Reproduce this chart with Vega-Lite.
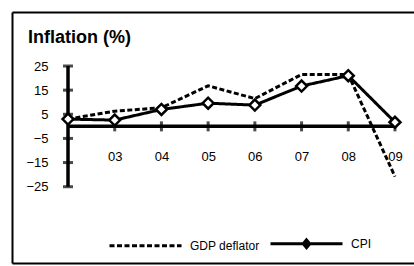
{
  "$schema": "https://vega.github.io/schema/vega-lite/v6.json",
  "width": 402,
  "height": 251,
  "autosize": "none",
  "padding": {"left": 12, "top": 12, "right": 0, "bottom": 3},
  "background": "white",
  "title": {"text": "Inflation (%)", "anchor": "start", "frame": "group", "orient": "top", "offset": -49, "dx": 16, "baseline": "alphabetic", "font": "Liberation Sans", "fontSize": 18, "fontWeight": "bold", "color": "black"},
  "config": {
    "view": {"stroke": null},
    "axis": {"grid": false, "title": null, "labelFont": "Liberation Sans", "labelColor": "black", "domainColor": "black", "tickColor": "black"}
  },
  "datasets": {
    "series": [
      {"year": 2002, "series": "GDP deflator", "value": 3.0},
      {"year": 2003, "series": "GDP deflator", "value": 6.3},
      {"year": 2004, "series": "GDP deflator", "value": 7.7},
      {"year": 2005, "series": "GDP deflator", "value": 16.8},
      {"year": 2006, "series": "GDP deflator", "value": 11.5},
      {"year": 2007, "series": "GDP deflator", "value": 21.5},
      {"year": 2008, "series": "GDP deflator", "value": 21.5},
      {"year": 2009, "series": "GDP deflator", "value": -20.8},
      {"year": 2002, "series": "CPI", "value": 3.0},
      {"year": 2003, "series": "CPI", "value": 2.6},
      {"year": 2004, "series": "CPI", "value": 7.0},
      {"year": 2005, "series": "CPI", "value": 9.6},
      {"year": 2006, "series": "CPI", "value": 8.8},
      {"year": 2007, "series": "CPI", "value": 16.7},
      {"year": 2008, "series": "CPI", "value": 21.0},
      {"year": 2009, "series": "CPI", "value": 1.7}
    ],
    "yticks": [{"v": -25}, {"v": -15}, {"v": -5}, {"v": 5}, {"v": 15}, {"v": 25}],
    "xticks": [{"yr": 2003}, {"yr": 2004}, {"yr": 2005}, {"yr": 2006}, {"yr": 2007}, {"yr": 2008}, {"yr": 2009}]
  },
  "layer": [
    {
      "data": {"values": [{}]},
      "mark": {"type": "rule", "color": "black", "strokeWidth": 3.5},
      "encoding": {
        "x": {"datum": 2002, "type": "quantitative", "scale": {"domain": [2000.801, 2009.407], "nice": false, "zero": false},
              "axis": {"orient": "top", "domain": true, "domainWidth": 2, "ticks": false, "labels": false, "title": null}},
        "y": {"datum": -25, "type": "quantitative", "scale": {"domain": [-56.6, 47.37], "nice": false, "zero": false},
              "axis": {"orient": "left", "domain": true, "domainWidth": 2, "ticks": false, "labels": false, "title": null}},
        "y2": {"datum": 25}
      }
    },
    {
      "data": {"values": [{}]},
      "mark": {"type": "rule", "color": "black", "strokeWidth": 3.5},
      "encoding": {
        "x": {"datum": 2002, "type": "quantitative",
              "axis": {"orient": "bottom", "domain": true, "domainWidth": 2, "ticks": false, "labels": false, "title": null}},
        "x2": {"datum": 2009},
        "y": {"datum": 0, "type": "quantitative",
              "axis": {"orient": "right", "offset": -366, "domain": false, "ticks": false, "tickSize": 0, "labelPadding": 0, "labelAlign": "right", "labelFontSize": 13, "values": [-25, -15, -5, 5, 15, 25], "title": null}}
      }
    },
    {
      "data": {"name": "yticks"},
      "mark": {"type": "tick", "orient": "horizontal", "color": "black", "size": 10, "thickness": 3},
      "encoding": {
        "x": {"datum": 2002, "type": "quantitative", "axis": null},
        "y": {"field": "v", "type": "quantitative", "axis": null}
      }
    },
    {
      "data": {"name": "xticks"},
      "mark": {"type": "tick", "orient": "vertical", "color": "black", "size": 10, "thickness": 3},
      "encoding": {
        "x": {"field": "yr", "type": "quantitative",
              "axis": {"orient": "bottom", "offset": -137, "domain": false, "ticks": false, "tickSize": 0, "labelPadding": 24, "labelFontSize": 13, "values": [2003, 2004, 2005, 2006, 2007, 2008, 2009], "labelExpr": "'0' + (datum.value - 2000)", "title": null}},
        "y": {"datum": 0, "type": "quantitative", "axis": null}
      }
    },
    {
      "data": {"name": "series"},
      "mark": {"type": "line", "color": "black", "strokeWidth": 3},
      "encoding": {
        "x": {"field": "year", "type": "quantitative", "axis": null},
        "y": {"field": "value", "type": "quantitative", "axis": null},
        "strokeDash": {"field": "series", "type": "nominal",
          "scale": {"domain": ["GDP deflator", "CPI"], "range": [[5, 2.5], [1, 0]]},
          "legend": {"orient": "none", "legendX": 96, "legendY": 194, "direction": "horizontal", "title": null, "padding": 0,
            "symbolSize": 5184, "symbolStrokeWidth": 3, "symbolStrokeColor": "black", "symbolFillColor": "black", "symbolOpacity": 1,
            "labelFont": "Liberation Sans", "labelFontSize": 12, "labelColor": "black", "labelOffset": 7, "columnPadding": 4,
            "encode": {"symbols": {"update": {"fill": {"value": "black"}, "stroke": {"value": "black"}, "strokeWidth": {"value": 3}, "opacity": {"value": 1}}}}}
        }
      }
    },
    {
      "data": {"name": "series"},
      "transform": [{"filter": "datum.series === 'CPI'"}],
      "mark": {"type": "point", "shape": "diamond", "filled": true, "fill": "white", "stroke": "black", "strokeWidth": 2.5, "size": 120, "opacity": 1},
      "encoding": {
        "x": {"field": "year", "type": "quantitative", "axis": null},
        "y": {"field": "value", "type": "quantitative", "axis": null}
      }
    },
    {
      "data": {"name": "series"},
      "mark": {"type": "point", "filled": true, "color": "black", "opacity": 0},
      "encoding": {
        "x": {"field": "year", "type": "quantitative", "axis": null},
        "y": {"field": "value", "type": "quantitative", "axis": null},
        "shape": {"field": "series", "type": "nominal",
          "scale": {"domain": ["GDP deflator", "CPI"], "range": ["M-1,0L1,0", "M-1,0L1,0M0,-0.11L0.09,0L0,0.11L-0.09,0Z"]},
          "legend": {"orient": "none", "legendX": 96, "legendY": 194, "direction": "horizontal", "title": null, "padding": 0,
            "symbolSize": 5184, "symbolStrokeWidth": 3, "symbolStrokeColor": "black", "symbolFillColor": "black", "symbolOpacity": 1,
            "labelFont": "Liberation Sans", "labelFontSize": 12, "labelColor": "black", "labelOffset": 7, "columnPadding": 4,
            "encode": {"symbols": {"update": {"fill": {"value": "black"}, "stroke": {"value": "black"}, "strokeWidth": {"value": 3}, "opacity": {"value": 1}}}}}
        }
      }
    }
  ]
}
